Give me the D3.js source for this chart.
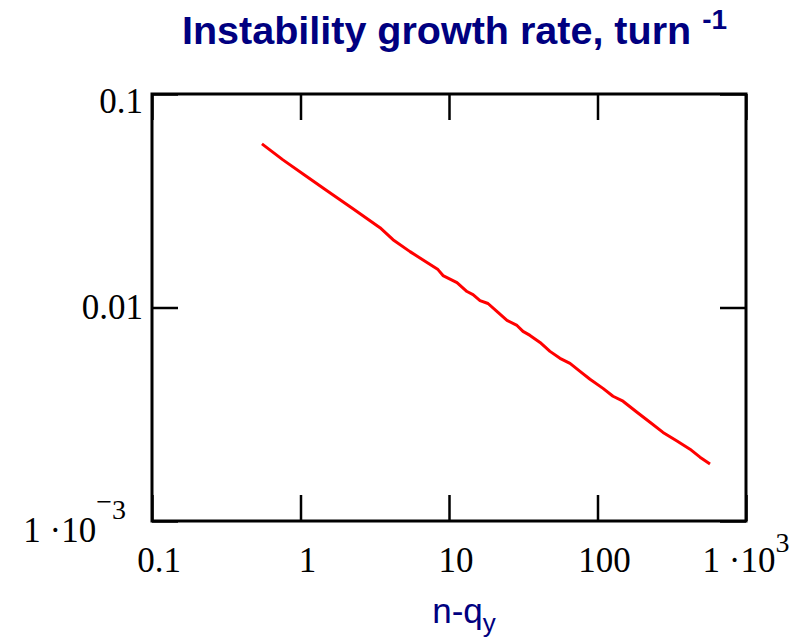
<!DOCTYPE html>
<html>
<head>
<meta charset="utf-8">
<script src="https://cdn.jsdelivr.net/npm/d3@7"></script>
<style>
  body { margin: 0; background: #fff; }
</style>
</head>
<body>
<script>
// tick values and their labels (base text + superscript)
var xTicks = [0.1, 1, 10, 100, 1000];
var xTickBase = ["0.1", "1", "10", "100", "1 \u00b710"];
var xTickExp = ["", "", "", "", "3"];
var yTicks = [0.001, 0.01, 0.1];
var yTickBase = ["1 \u00b710", "0.01", "0.1"];
var yTickExp = ["3", "", ""];

// n - q_y  vs growth rate (turn^-1)
var nq = [0.550, 0.762, 1.106, 1.508, 2.257, 3.430, 4.196, 5.463, 7.111, 8.433,
          9.113, 11.32, 13.22, 14.51, 16.18, 18.31, 21.38, 24.58, 28.70, 31.50,
          35.12, 41.02, 47.87, 55.91, 65.29, 76.26, 89.03, 108.9, 127.2, 148.5,
          184.5, 225.7, 276.2, 343.0, 419.6, 490.0, 572.3];
var rate = [0.05840, 0.04914, 0.04094, 0.03522, 0.02902, 0.02365, 0.02078, 0.01827, 0.01623, 0.01505,
            0.01411, 0.01309, 0.01188, 0.01150, 0.01078, 0.01044, 0.00948, 0.00870, 0.00824, 0.00773,
            0.00740, 0.00686, 0.00623, 0.00578, 0.00547, 0.00502, 0.00461, 0.00418, 0.00384, 0.00364,
            0.00323, 0.00290, 0.00260, 0.00237, 0.00217, 0.00199, 0.00185];

var width = 803, height = 637;
var plotLeft = 152, plotRight = 746, plotTop = 94, plotBottom = 521;
var tickLen = 26;
var navy = "#000080";

var svg = d3.select("body").append("svg")
    .attr("width", width)
    .attr("height", height);

var x = d3.scaleLog().domain([0.1, 1000]).range([plotLeft, plotRight]);
var y = d3.scaleLog().domain([0.001, 0.1]).range([plotBottom, plotTop]);

// title
var title = svg.append("text")
    .attr("x", 182)
    .attr("y", 44)
    .attr("fill", navy)
    .style("font-family", "'Liberation Sans', Arial, sans-serif")
    .style("font-weight", "bold")
    .style("font-size", "39.5px")
    .text("Instability growth rate, turn ");
title.append("tspan")
    .attr("dy", -15)
    .style("font-size", "28px")
    .text("-1");

// inward ticks on all four sides
function noDomain(g) { g.select(".domain").remove(); }

svg.append("g")
    .attr("transform", "translate(0," + plotBottom + ")")
    .call(d3.axisBottom(x).tickValues(xTicks).tickSize(-tickLen).tickFormat(""))
    .call(noDomain);
svg.append("g")
    .attr("transform", "translate(0," + plotTop + ")")
    .call(d3.axisTop(x).tickValues(xTicks).tickSize(-tickLen).tickFormat(""))
    .call(noDomain);
svg.append("g")
    .attr("transform", "translate(" + plotLeft + ",0)")
    .call(d3.axisLeft(y).tickValues(yTicks).tickSize(-tickLen).tickFormat(""))
    .call(noDomain);
svg.append("g")
    .attr("transform", "translate(" + plotRight + ",0)")
    .call(d3.axisRight(y).tickValues(yTicks).tickSize(-tickLen).tickFormat(""))
    .call(noDomain);

svg.selectAll(".tick line")
    .attr("stroke", "#000")
    .attr("stroke-width", 2.5);

// frame
svg.append("rect")
    .attr("x", plotLeft)
    .attr("y", plotTop)
    .attr("width", plotRight - plotLeft)
    .attr("height", plotBottom - plotTop)
    .attr("fill", "none")
    .attr("stroke", "#000")
    .attr("stroke-width", 3);

// data line
var line = d3.line()
    .x(function (d) { return x(d[0]); })
    .y(function (d) { return y(d[1]); });

svg.append("path")
    .datum(d3.zip(nq, rate))
    .attr("d", line)
    .attr("fill", "none")
    .attr("stroke", "#ff0000")
    .attr("stroke-width", 3)
    .attr("stroke-linejoin", "round");

// tick labels
var serif = "'Liberation Serif', 'Times New Roman', serif";

xTicks.forEach(function (v, i) {
    var t = svg.append("text")
        .attr("x", x(v) + (xTickExp[i] ? 0 : 7))
        .attr("y", 572)
        .attr("text-anchor", "middle")
        .style("font-family", serif)
        .style("font-size", "35px")
        .text(xTickBase[i]);
    if (xTickExp[i]) {
        t.append("tspan")
            .attr("dy", -20)
            .style("font-size", "28px")
            .text(xTickExp[i]);
    }
});

yTicks.forEach(function (v, i) {
    var base = y(v) + 11 + (yTickExp[i] ? 10 : 0);
    var t = svg.append("text")
        .attr("x", yTickExp[i] ? 126 : 143)
        .attr("y", Math.max(plotTop + 19, base))
        .attr("text-anchor", "end")
        .style("font-family", serif)
        .style("font-size", "35px")
        .text(yTickBase[i]);
    if (yTickExp[i]) {
        t.append("tspan")
            .attr("dy", -31)
            .style("font-size", "28px")
            .text("\u2212");
        t.append("tspan")
            .attr("dy", 8)
            .style("font-size", "28px")
            .text(yTickExp[i]);
    }
});

// x axis title
var xt = svg.append("text")
    .attr("x", 464)
    .attr("y", 623)
    .attr("text-anchor", "middle")
    .attr("fill", navy)
    .style("font-family", "'Liberation Sans', Arial, sans-serif")
    .style("font-size", "35px")
    .text("n-q");
xt.append("tspan")
    .attr("dy", 9)
    .style("font-size", "26px")
    .text("y");
</script>
</body>
</html>
